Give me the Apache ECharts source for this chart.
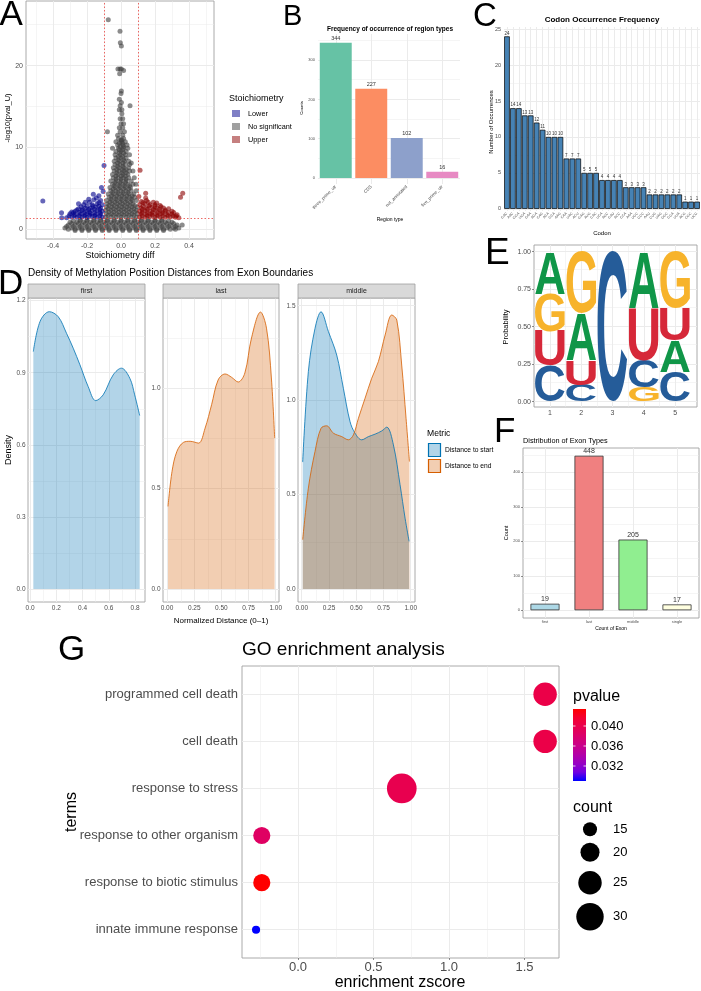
<!DOCTYPE html>
<html><head><meta charset="utf-8">
<script src="https://cdn.jsdelivr.net/npm/echarts@6/dist/echarts.min.js"></script>
<style>html,body{margin:0;padding:0;background:#fff}#c{width:701px;height:991px}</style>
</head><body><div id="c"></div><script>
const FONT = '"Liberation Sans", Arial, sans-serif';

// ---------------- Panel A (volcano) ----------------
const aXTicks = [-0.4,-0.2,0,0.2,0.4];
const aXMinor = [-0.5,-0.3,-0.1,0.1,0.3,0.5];
const aYTicks = [0,10,20];
const aYMinor = [5,15,25];
const aLowerPts = [[-0.11,1.5],[-0.14,1.45],[-0.17,1.55],[-0.2,1.45],[-0.23,1.5],[-0.26,1.45],[-0.29,1.5],[-0.32,1.4],[-0.12,1.85],[-0.15,1.8],[-0.18,1.9],[-0.21,1.8],[-0.24,1.85],[-0.27,1.8],[-0.3,1.9],[-0.11,2.2],[-0.14,2.25],[-0.17,2.3],[-0.2,2.2],[-0.23,2.25],[-0.27,2.2],[-0.29,2.1],[-0.12,2.6],[-0.15,2.7],[-0.18,2.6],[-0.21,2.55],[-0.25,2.5],[-0.11,3.0],[-0.14,3.1],[-0.17,3.0],[-0.22,3.0],[-0.25,3.1],[-0.12,3.5],[-0.13,4.1],[-0.16,3.6],[-0.19,3.65],[-0.163,4.26],[-0.1,7.8],[-0.46,3.45],[-0.35,2.0],[-0.349,1.4],[-0.105,4.6],[-0.115,5.1],
 [-0.125,1.65],[-0.155,1.65],[-0.185,1.7],[-0.215,1.65],[-0.245,1.65],[-0.275,1.65],[-0.305,1.65],[-0.125,2.05],[-0.155,2.0],[-0.185,2.05],[-0.215,2.0],[-0.245,2.05],[-0.28,2.0],[-0.125,2.4],[-0.155,2.45],[-0.19,2.4],[-0.225,2.4],[-0.26,2.35],[-0.13,2.8],[-0.165,2.85],[-0.2,2.8],[-0.235,2.75],[-0.13,3.25],[-0.185,3.3],[-0.21,3.3],[-0.145,3.8]];
const aUpperPts = [[0.11,1.5],[0.14,1.45],[0.17,1.55],[0.2,1.45],[0.23,1.5],[0.26,1.45],[0.29,1.5],[0.32,1.45],[0.12,1.85],[0.15,1.8],[0.18,1.85],[0.21,1.8],[0.24,1.9],[0.27,1.8],[0.3,1.85],[0.33,1.75],[0.11,2.2],[0.14,2.25],[0.17,2.2],[0.2,2.3],[0.23,2.2],[0.26,2.2],[0.3,2.2],[0.12,2.6],[0.15,2.6],[0.18,2.65],[0.21,2.6],[0.25,2.6],[0.28,2.5],[0.11,3.0],[0.14,3.1],[0.17,3.0],[0.2,3.0],[0.23,2.9],[0.12,3.4],[0.15,3.5],[0.19,3.3],[0.145,4.4],[0.112,7.2],[0.35,3.9],[0.363,4.4],[0.34,1.4],[0.105,4.0],
 [0.125,1.65],[0.155,1.65],[0.185,1.7],[0.215,1.65],[0.245,1.65],[0.275,1.65],[0.305,1.65],[0.125,2.05],[0.155,2.0],[0.185,2.05],[0.215,2.0],[0.245,2.05],[0.28,2.0],[0.125,2.4],[0.155,2.45],[0.19,2.4],[0.225,2.4],[0.26,2.35],[0.13,2.8],[0.165,2.85],[0.2,2.8],[0.235,2.75],[0.13,3.25],[0.16,3.3],[0.21,3.2],[0.145,3.8],[0.31,2.05],[0.325,1.6]];
const aNsRows = [
 [-0.15,[-0.27,-0.23,-0.19,-0.15,-0.11,-0.07,-0.03,0.01,0.05,0.09,0.13,0.17,0.21,0.25]],
 [0.0,[-0.31,-0.27,-0.23,-0.19,-0.15,-0.11,-0.07,-0.03,0.01,0.05,0.09,0.13,0.17,0.21,0.25,0.29,0.32]],
 [0.15,[-0.33,-0.29,-0.25,-0.21,-0.17,-0.13,-0.09,-0.05,-0.01,0.03,0.07,0.11,0.15,0.19,0.23,0.27,0.31,0.34]],
 [0.33,[-0.32,-0.28,-0.24,-0.2,-0.16,-0.12,-0.08,-0.04,0,0.04,0.08,0.12,0.16,0.2,0.24,0.28,0.32]],
 [0.5,[-0.31,-0.27,-0.23,-0.19,-0.15,-0.11,-0.07,-0.03,0.01,0.05,0.09,0.13,0.17,0.21,0.25,0.29,0.33,0.36]],
 [0.68,[-0.29,-0.25,-0.21,-0.17,-0.13,-0.09,-0.05,-0.01,0.03,0.07,0.11,0.15,0.19,0.23,0.27,0.31]],
 [0.85,[-0.3,-0.26,-0.22,-0.18,-0.14,-0.1,-0.06,-0.02,0.02,0.06,0.1,0.14,0.18,0.22,0.26,0.3]],
 [1.0,[-0.28,-0.24,-0.2,-0.16,-0.12,-0.08,-0.04,0,0.04,0.08,0.12,0.16,0.2,0.24,0.28]],
 [1.15,[-0.24,-0.2,-0.16,-0.12,-0.08,-0.04,0,0.04,0.08,0.12,0.16,0.2,0.24]],
 [1.5,[-0.09,-0.06,-0.03,0,0.03,0.06,0.09]],
 [1.7,[-0.075,-0.045,-0.015,0.015,0.045,0.075]],
 [1.9,[-0.085,-0.055,-0.025,0.005,0.035,0.065,0.095]],
 [2.1,[-0.07,-0.04,-0.01,0.02,0.05,0.08]],
 [2.3,[-0.09,-0.06,-0.03,0,0.03,0.06,0.09]],
 [2.5,[-0.075,-0.045,-0.015,0.015,0.045,0.075]],
 [2.7,[-0.085,-0.055,-0.025,0.005,0.035,0.065,0.095]],
 [2.9,[-0.07,-0.04,-0.01,0.02,0.05,0.08]],
 [3.1,[-0.08,-0.05,-0.02,0.01,0.04,0.07]],
 [3.3,[-0.065,-0.035,-0.005,0.025,0.055]],
 [3.5,[-0.085,-0.055,-0.025,0.005,0.035,0.065,0.09]],
 [3.7,[-0.06,-0.03,0,0.03,0.06]],
 [3.9,[-0.07,-0.04,-0.01,0.02,0.05,0.08]],
 [4.1,[-0.055,-0.025,0.005,0.035,0.065]],
 [4.3,[-0.075,-0.045,-0.015,0.015,0.045,0.075]],
 [4.5,[-0.05,-0.02,0.01,0.04]],
 [4.7,[-0.06,-0.03,0,0.03,0.06,0.09]],
 [4.9,[-0.045,-0.015,0.015,0.045]],
 [5.1,[-0.065,-0.035,-0.005,0.025,0.055]],
 [5.3,[-0.04,-0.01,0.02,0.05]],
 [5.5,[-0.05,-0.02,0.01,0.04,0.07,0.088]],
 [5.7,[-0.035,-0.005,0.025]],
 [5.9,[-0.06,-0.03,0,0.03,0.06]],
 [6.1,[-0.03,0,0.03]],
 [6.3,[-0.045,-0.015,0.015,0.045,0.078]],
 [6.5,[-0.03,0,0.025]],
 [6.7,[-0.05,-0.02,0.01,0.04]],
 [6.9,[-0.025,0.005,0.03]],
 [7.1,[-0.04,-0.01,0.02,0.05,0.07]],
 [7.3,[-0.025,0.005,0.03]],
 [7.5,[-0.045,-0.015,0.015,0.045]],
 [7.7,[-0.02,0.01]],
 [7.9,[-0.035,-0.005,0.025,0.05]],
 [8.1,[-0.02,0.01,0.06]],
 [8.3,[-0.04,-0.01,0.02,0.045]],
 [8.5,[-0.015,0.015]],
 [8.7,[-0.03,0,0.03]],
 [8.9,[-0.015,0.01]],
 [9.1,[-0.035,-0.005,0.025,0.05]],
 [9.3,[-0.01,0.015]],
 [9.5,[-0.03,0,0.03]],
 [9.7,[-0.01,0.01]],
 [9.9,[-0.05,-0.015,0.015,0.04]],
 [10.1,[-0.005,0.015]],
 [10.3,[-0.02,0.01,0.035]],
 [10.5,[-0.01,0.01]],
 [10.7,[-0.03,0,0.025]],
 [10.9,[0,0.005]],
 [11.1,[-0.015,0.015]],
 [11.5,[-0.02,0.01]],
 [11.9,[-0.08,-0.005,0.02]],
 [12.4,[-0.01,0.01]],
 [12.9,[0,0.015]],
 [13.5,[-0.005,0.01]],
 [14.1,[0.005]],
 [14.6,[-0.01,0.005]],
 [15.1,[-0.005,0.053]],
 [15.5,[0.002]],
 [15.9,[-0.01]],
 [16.6,[0]],
 [16.9,[0.002]],
 [19.0,[-0.008]],
 [19.4,[0.015]],
 [19.6,[-0.018,-0.006,0.002]],
 [22.4,[0.002]],
 [22.8,[-0.004]],
 [24.2,[-0.006]],
 [25.6,[-0.075]]
];
const aThreshX = [-0.1, 0.1];
const aThreshY = 1.301;

// ---------------- Panel B ----------------
const bCats = ['three_prime_utr','CDS','not_annotated','five_prime_utr'];
const bVals = [344,227,102,16];
const bYTicks = [0,100,200,300];
const bYMinor = [50,150,250,350];

// ---------------- Panel C ----------------
const cCodons = ['GAC','AAC','GGA','UGA','GAA','AGA','CAG','ACA','GCA','AAG','CAA','UAC','ACU','GAG','AUG','CAC','UCA','AGC','GAU','ACC','CCA','AAA','UGC','GCC','AAU','CUG','UAG','GGC','CGA','UUA','ACG','CGC','UCG'];
const cCounts = [24,14,14,13,13,12,11,10,10,10,7,7,7,5,5,5,4,4,4,4,3,3,3,3,2,2,2,2,2,2,1,1,1];
const cYTicks = [0,5,10,15,20,25];
const cYMinor = [2.5,7.5,12.5,17.5,22.5];

// ---------------- Panel D ----------------
const dFacets = ['first','last','middle'];
const dFirstStart = [[0.025,0.988],[0.076,1.113],[0.147,1.154],[0.215,1.133],[0.278,1.064],[0.329,1.002],[0.38,0.933],[0.443,0.842],[0.5,0.784],[0.557,0.808],[0.633,0.891],[0.696,0.919],[0.76,0.877],[0.797,0.808],[0.835,0.722]];
const dLastEnd = [[0.009,0.411],[0.046,0.585],[0.091,0.685],[0.152,0.73],[0.213,0.735],[0.29,0.726],[0.35,0.80],[0.41,0.917],[0.47,1.04],[0.534,1.07],[0.595,1.053],[0.655,1.03],[0.716,1.075],[0.777,1.249],[0.86,1.378],[0.915,1.298],[0.96,1.05],[0.99,0.751]];
const dMidStart = [[0.009,0.672],[0.061,1.151],[0.122,1.38],[0.177,1.468],[0.245,1.363],[0.321,1.239],[0.382,1.063],[0.443,0.887],[0.489,0.825],[0.55,0.79],[0.612,0.807],[0.673,0.82],[0.734,0.837],[0.78,0.857],[0.841,0.763],[0.902,0.552],[0.948,0.375],[0.985,0.252]];
const dMidEnd = [[0.009,0.261],[0.061,0.534],[0.122,0.728],[0.177,0.851],[0.229,0.864],[0.291,0.825],[0.367,0.807],[0.428,0.79],[0.474,0.816],[0.52,0.904],[0.581,1.01],[0.642,1.116],[0.703,1.204],[0.765,1.345],[0.826,1.451],[0.872,1.424],[0.917,1.186],[0.957,0.904],[0.988,0.675]];
const d1XTicks = [0,0.2,0.4,0.6,0.8], d1XMinor = [0.1,0.3,0.5,0.7];
const d1YTicks = [0,0.3,0.6,0.9,1.2], d1YMinor = [0.15,0.45,0.75,1.05];
const d23XTicks = [0,0.25,0.5,0.75,1], d23XMinor = [0.125,0.375,0.625,0.875];
const d2YTicks = [0,0.5,1.0], d3YTicks = [0,0.5,1.0,1.5], d23YMinor = [0.25,0.75,1.25];
const dMetrics = ['Distance to start','Distance to end'];

// ---------------- Panel E (sequence logo) ----------------
const ePositions = [1,2,3,4,5];
const eStacks = [
 [['C',0.24],['U',0.23],['G',0.25],['A',0.28]],
 [['C',0.11],['U',0.165],['A',0.315],['G',0.41]],
 [['C',1.0]],
 [['G',0.095],['C',0.18],['U',0.35],['A',0.375]],
 [['C',0.2],['A',0.21],['U',0.215],['G',0.375]]
];
const eYTicks = [0,0.25,0.5,0.75,1.0], eYMinor = [0.125,0.375,0.625,0.875];
const eXMinor = [1.5,2.5,3.5,4.5];

// ---------------- Panel F ----------------
const fCats = ['first','last','middle','single'];
const fVals = [19,448,205,17];
const fYTicks = [0,100,200,300,400], fYMinor = [50,150,250,350,450];

// ---------------- Panel G ----------------
const gTerms = ['programmed cell death','cell death','response to stress','response to other organism','response to biotic stimulus','innate immune response'];
const gZscore = [1.636,1.636,0.687,-0.24,-0.24,-0.278];
const gPvalue = [0.0402,0.0402,0.0398,0.0386,0.0434,0.0290];
const gCount = [25,25,33,18,18,10];
const gXTicks = [0,0.5,1.0,1.5], gXMinor = [-0.25,0.25,0.75,1.25];
const gPLegend = [0.040,0.036,0.032];
const gCountLegend = [15,20,25,30];

// ================= build =================
const P_STOPS = ['#0000FF','#7300E0','#9A00C2','#B500A5','#CA0089','#DA006C','#E8004F','#F40031','#FF0000'];
const sizeFn = c => 8.35*Math.sqrt(c) - 18.3;
const fx = n => (v => Number(v).toFixed(n));

const grids = [
  {left:26, top:1, width:188, height:238, border:true},   // A
  {left:318, top:34, width:142, height:150, border:false}, // B
  {left:504, top:27, width:196, height:184, border:false}, // C
  {left:28, top:298, width:117, height:304, border:true},  // D1
  {left:163, top:298, width:116, height:304, border:true}, // D2
  {left:298, top:298, width:117, height:304, border:true}, // D3
  {left:534, top:245, width:163, height:162, border:true}, // E
  {left:523, top:448, width:176, height:170, border:true}, // F
  {left:242, top:666, width:317, height:292, border:true}  // G
].map(g => ({left:g.left, top:g.top, width:g.width, height:g.height, containLabel:false, outerBoundsMode:'none',
  show:g.border, borderColor:'#A0A0A0', borderWidth:g.border?0.9:0, backgroundColor:'transparent'}));

function vAxis(gi, min, max, ticks, fs, fmt, margin, tick) {
  return {type:'value', gridIndex:gi, min, max,
    axisLine:{show:false}, splitLine:{show:false}, minorTick:{show:false}, minorSplitLine:{show:false},
    axisTick:{show:tick!==false, customValues:ticks, length:2, lineStyle:{color:'#444', width:0.6}},
    axisLabel:{show:true, customValues:ticks, fontSize:fs, color:'#4D4D4D', fontFamily:FONT, margin, formatter:fmt, hideOverlap:false}};
}
function cAxis(gi, cats, fs, rotate, margin, tick) {
  return {type:'category', gridIndex:gi, data:cats, boundaryGap:true,
    axisLine:{show:false}, splitLine:{show:false},
    axisTick:{show:tick!==false, alignWithLabel:true, length:2, lineStyle:{color:'#444', width:0.6}},
    axisLabel:{show:true, interval:0, rotate, fontSize:fs, color:'#4D4D4D', fontFamily:FONT, margin, hideOverlap:false}};
}
const gTermsBottomUp = gTerms.slice().reverse();
const xAxes = [
  vAxis(0,-0.559,0.547,aXTicks,7,fx(1),4),
  cAxis(1,bCats,4.5,45,2,false),
  cAxis(2,cCodons,3.5,45,2,false),
  vAxis(3,-0.0155,0.8755,d1XTicks,6.5,fx(1),3),
  vAxis(4,-0.037,1.03,d23XTicks,6.5,fx(2),3),
  vAxis(5,-0.034,1.039,d23XTicks,6.5,fx(2),3),
  vAxis(6,0.49,5.7,ePositions,7,fx(0),3),
  cAxis(7,fCats,4,0,2),
  vAxis(8,-0.371,1.728,gXTicks,13,fx(1),3)
];
const yAxes = [
  vAxis(0,-1.2,27.9,aYTicks,7,fx(0),3),
  vAxis(1,-15.3,366.4,bYTicks,4,fx(0),3,false),
  vAxis(2,-0.3,25.3,cYTicks,5.5,fx(0),3,false),
  vAxis(3,-0.054,1.211,d1YTicks,6.5,fx(1),2.5),
  vAxis(4,-0.0646,1.448,d2YTicks,6.5,fx(1),2.5),
  vAxis(5,-0.069,1.541,d3YTicks,6.5,fx(1),2.5),
  vAxis(6,-0.036,1.045,eYTicks,7,fx(2),3),
  vAxis(7,-22.4,470.4,fYTicks,4,fx(0),3),
  vAxis(8,0.4,6.6,[1,2,3,4,5,6],13,(v => gTermsBottomUp[Math.round(v)-1]),4)
];
yAxes[8].axisTick.length = 3;

const series = [];
function gl(gi, xMaj, xMin, yMaj, yMin) {
  const d = [];
  (xMin||[]).forEach(v => d.push({xAxis:v, lineStyle:{width:0.5}}));
  (yMin||[]).forEach(v => d.push({yAxis:v, lineStyle:{width:0.5}}));
  (xMaj||[]).forEach(v => d.push({xAxis:v, lineStyle:{width:1}}));
  (yMaj||[]).forEach(v => d.push({yAxis:v, lineStyle:{width:1}}));
  series.push({type:'line', xAxisIndex:gi, yAxisIndex:gi, data:[], z:1, silent:true, symbol:'none',
    markLine:{z:1, silent:true, symbol:['none','none'], animation:false, label:{show:false}, emphasis:{disabled:true},
      lineStyle:{color:'#EBEBEB', type:'solid'}, data:d}});
}

// A
gl(0, aXTicks, aXMinor, aYTicks, aYMinor);
const aNs = [];
aNsRows.forEach(r => r[1].forEach(x => aNs.push([x, r[0]])));
const aSc = (data, color, op) => ({type:'scatter', xAxisIndex:0, yAxisIndex:0, data, symbolSize:5, z:2, silent:true,
  itemStyle:{color, opacity:op}});
series.push(aSc(aNs, '#404040', 0.6));
series.push(aSc(aLowerPts, '#00008B', 0.6));
series.push(aSc(aUpperPts, '#8B0000', 0.6));
series.push({type:'line', xAxisIndex:0, yAxisIndex:0, data:[], z:3, silent:true,
  markLine:{z:10, silent:true, symbol:['none','none'], animation:false, label:{show:false}, emphasis:{disabled:true},
    lineStyle:{color:'#E8413C', type:[1.5,2], width:0.8},
    data: aThreshX.map(v => ({xAxis:v})).concat([{yAxis:aThreshY}])}});

// B
gl(1, bCats, null, bYTicks, bYMinor);
const bColors = ['#66C2A5','#FC8D62','#8DA0CB','#E78AC3'];
series.push({type:'bar', xAxisIndex:1, yAxisIndex:1, barWidth:'90%', z:2, silent:true,
  data: bVals.map((v,i) => ({value:v, itemStyle:{color:bColors[i]}})),
  label:{show:true, position:'top', distance:1, fontSize:5.5, color:'#333', fontFamily:FONT}});

// C
gl(2, cCodons, null, cYTicks, cYMinor);
series.push({type:'bar', xAxisIndex:2, yAxisIndex:2, barCategoryGap:'6%', z:2, silent:true, data:cCounts,
  itemStyle:{color:'#4682B4', borderColor:'#000', borderWidth:0.7},
  label:{show:true, position:'top', distance:0.5, fontSize:4.5, color:'#333', fontFamily:FONT}});

// D
const dBlue = '#0072B2', dOrange = '#D55E00';
gl(3, d1XTicks, d1XMinor, d1YTicks, d1YMinor);
gl(4, d23XTicks, d23XMinor, d2YTicks, d23YMinor);
gl(5, d23XTicks, d23XMinor, d3YTicks, d23YMinor);
const dLine = (gi, data, color, name) => ({type:'line', name, xAxisIndex:gi, yAxisIndex:gi, data, smooth:0.35, symbol:'none', z:2, silent:true,
  lineStyle:{color, width:0.8}, areaStyle:{color, opacity:0.3}});
series.push(dLine(3, dFirstStart, dBlue, dMetrics[0]));
series.push(dLine(4, dLastEnd, dOrange, dMetrics[1]));
series.push(dLine(5, dMidStart, dBlue, dMetrics[0]));
series.push(dLine(5, dMidEnd, dOrange, dMetrics[1]));

// E
gl(6, ePositions, eXMinor, eYTicks, eYMinor);
const LETTERS = ['A','C','G','U'];
const LOGO_COLORS = {A:'#109648', C:'#255C99', G:'#F7B32B', U:'#D62839'};
const LOGO_FONT = 'bold 100px "Liberation Sans", Arial, sans-serif';
const glyph = {};
(function(){
  const cv = document.createElement('canvas'); const ctx = cv.getContext('2d');
  ctx.font = LOGO_FONT; ctx.textAlign = 'center'; ctx.textBaseline = 'middle';
  LETTERS.forEach(ch => { const m = ctx.measureText(ch);
    glyph[ch] = {l:m.actualBoundingBoxLeft, r:m.actualBoundingBoxRight, a:m.actualBoundingBoxAscent, d:m.actualBoundingBoxDescent}; });
})();
const eData = [];
eStacks.forEach((stack, i) => { let y = 0; stack.forEach(([ch, h]) => { eData.push([ePositions[i], y, y + h, LETTERS.indexOf(ch)]); y += h; }); });
series.push({type:'custom', xAxisIndex:6, yAxisIndex:6, data:eData, z:2, silent:true,
  renderItem: (params, api) => {
    const pos = api.value(0), y0 = api.value(1), y1 = api.value(2), ch = LETTERS[api.value(3)];
    const p0 = api.coord([pos - 0.475, y1]), p1 = api.coord([pos + 0.475, y0]);
    const w = p1[0] - p0[0], h = p1[1] - p0[1], m = glyph[ch];
    const sx = w / (m.l + m.r), sy = h / (m.a + m.d);
    return {type:'text', x: p0[0] + m.l*sx, y: p0[1] + m.a*sy, scaleX:sx, scaleY:sy,
      style:{text:ch, font:LOGO_FONT, fill:LOGO_COLORS[ch], textAlign:'center', textVerticalAlign:'middle', align:'center', verticalAlign:'middle'}};
  }});

// F
gl(7, fCats, null, fYTicks, fYMinor);
const fColors = ['#ADD8E6','#F08080','#90EE90','#FFFFE0'];
series.push({type:'bar', xAxisIndex:7, yAxisIndex:7, barWidth:'66%', z:2, silent:true,
  data: fVals.map((v,i) => ({value:v, itemStyle:{color:fColors[i], borderColor:'#333', borderWidth:0.8}})),
  label:{show:true, position:'top', distance:1, fontSize:7, color:'#333', fontFamily:FONT}});

// G
gl(8, gXTicks, gXMinor, [1,2,3,4,5,6], null);
const gIdx = series.length;
series.push({type:'scatter', xAxisIndex:8, yAxisIndex:8, z:2, silent:true,
  data: gTerms.map((t,i) => [gZscore[i], gTerms.length - i, gPvalue[i], gCount[i]]),
  symbolSize: v => sizeFn(v[3]), itemStyle:{opacity:1}});

// ---------------- graphic (titles, legends, labels) ----------------
const G = [];
function T(text, x, y, size, o) {
  o = o || {};
  const al = o.align || 'center', va = o.va || 'middle';
  G.push({type:'text', x, y, rotation:o.rot||0, silent:true, z:100,
    style:{text, font:(o.bold?'bold ':'') + size + 'px ' + FONT, fill:o.color||'#000',
      textAlign:al, textVerticalAlign:va, align:al, verticalAlign:va}});
}
function R(x, y, w, h, fill, stroke, lw) {
  G.push({type:'rect', shape:{x, y, width:w, height:h}, silent:true, z:100,
    style:{fill, stroke:stroke||null, lineWidth:lw||0}});
}
// panel letters
T('A', -0.5, 15, 35, {align:'left'});
T('B', 283, 17, 29, {align:'left'});
T('C', 473, 16.5, 33, {align:'left'});
T('D', -2, 284.5, 35, {align:'left'});
T('E', 485, 253.5, 37, {align:'left'});
T('F', 494, 432.5, 35, {align:'left'});
T('G', 58, 650.5, 35, {align:'left'});
// A
T('-log10(pval_U)', 8, 118, 7.5, {rot:Math.PI/2});
T('Stoichiometry diff', 120, 256, 9);
T('Stoichiometry', 229, 99, 9, {align:'left'});
const aLegend = [['Lower','#7F7FC5'],['No significant','#A0A0A0'],['Upper','#C57F7F']];
aLegend.forEach((it, i) => { R(232, 110 + i*13, 8, 7, it[1]); T(it[0], 248, 113.5 + i*13, 7.3, {align:'left'}); });
// B
T('Frequency of occurrence of region types', 390, 29, 6.5, {bold:true});
T('Counts', 302, 108, 4.3, {rot:Math.PI/2});
T('Region type', 390, 220, 5);
// C
T('Codon Occurrence Frequency', 602, 20, 8, {bold:true});
T('Number of Occurrences', 491, 122, 6, {rot:Math.PI/2});
T('Codon', 602, 233, 6);
// D
T('Density of Methylation Position Distances from Exon Boundaries', 28, 273, 10, {align:'left'});
[[28,117],[163,116],[298,117]].forEach((s, i) => { R(s[0], 284, s[1], 14, '#D9D9D9', '#A0A0A0', 0.8); T(dFacets[i], s[0] + s[1]/2, 291, 7, {color:'#1A1A1A'}); });
T('Density', 9, 450, 9, {rot:Math.PI/2});
T('Normalized Distance (0\u20131)', 221, 621, 8);
T('Metric', 427, 434, 8.6, {align:'left'});
R(428.5, 443.5, 12, 13, 'rgba(0,114,178,0.3)', dBlue, 1.2);
R(428.5, 459.5, 12, 13, 'rgba(213,94,0,0.3)', dOrange, 1.2);
T(dMetrics[0], 445, 450, 6.7, {align:'left'});
T(dMetrics[1], 445, 466, 6.7, {align:'left'});
// E
T('Probability', 506, 327, 7.5, {rot:Math.PI/2});
// F
T('Distribution of Exon Types', 523, 441, 7.3, {align:'left'});
T('Count', 506, 533, 5.5, {rot:Math.PI/2});
T('Count of Exon', 611, 629, 5);
// G
T('GO enrichment analysis', 242, 650, 19, {align:'left'});
T('terms', 72, 812, 16, {rot:Math.PI/2});
T('enrichment zscore', 400, 983, 16);
T('pvalue', 573, 697, 16, {align:'left'});
const stops = P_STOPS.slice().reverse().map((c, i) => ({offset:i/(P_STOPS.length-1), color:c}));
G.push({type:'rect', shape:{x:573, y:709, width:13, height:72}, silent:true, z:100,
  style:{fill:new echarts.graphic.LinearGradient(0,0,0,1,stops)}});
const pMin = 0.029, pMax = 0.0434;
gPLegend.forEach(p => {
  const y = 781 - (p - pMin)/(pMax - pMin)*72;
  G.push({type:'line', shape:{x1:573, y1:y, x2:575.5, y2:y}, silent:true, z:101, style:{stroke:'#fff', lineWidth:0.8}});
  G.push({type:'line', shape:{x1:583.5, y1:y, x2:586, y2:y}, silent:true, z:101, style:{stroke:'#fff', lineWidth:0.8}});
  T(p.toFixed(3), 591, y, 13, {align:'left'});
});
T('count', 573, 808, 16, {align:'left'});
const cLegY = [829.3, 852.3, 882.7, 916.7];
gCountLegend.forEach((c, i) => {
  G.push({type:'circle', shape:{cx:590, cy:cLegY[i], r:sizeFn(c)/2}, silent:true, z:100, style:{fill:'#000'}});
  T(String(c), 613, cLegY[i], 13, {align:'left'});
});

const option = {
  animation:false, backgroundColor:'#fff', textStyle:{fontFamily:FONT},
  grid:grids, xAxis:xAxes, yAxis:yAxes, series,
  visualMap:[{type:'continuous', show:false, seriesIndex:gIdx, dimension:2, min:pMin, max:pMax, inRange:{color:P_STOPS}}],
  graphic:{elements:G}
};
const chart = echarts.init(document.getElementById('c'), null, {renderer:'canvas', width:701, height:991});
chart.setOption(option);
</script></body></html>
